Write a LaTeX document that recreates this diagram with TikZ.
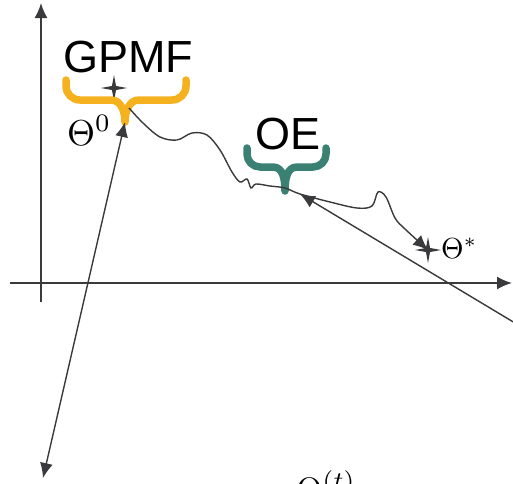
\documentclass[tikz,border=0pt]{standalone}
\usepackage{fontspec}
\newfontfamily\labelfont{Liberation Sans}
\usetikzlibrary{arrows.meta,shapes.geometric}
\definecolor{inkgray}{HTML}{3A3A3C}
\definecolor{braceorange}{HTML}{F5B21E}
\definecolor{braceteal}{HTML}{3A8073}
\newcommand{\bigmath}[2]{\scalebox{#1}{\fontsize{10}{12}\selectfont$#2$}}
\begin{document}
\begin{tikzpicture}[x=1pt, y=-1pt,
    axis/.style={draw=inkgray, line width=1.8pt, -{Latex[length=15pt,width=13pt]}},
    line/.style={draw=inkgray, line width=1.4pt},
    brace/.style={line width=7.5pt, line cap=round, line join=round},
    tag/.style={font=\labelfont\fontsize{45}{48}\selectfont, inner sep=0pt, anchor=base},
    mathlabel/.style={inner sep=0pt, anchor=base west},
    marker/.style={star, star points=4, star point ratio=4.5, fill=inkgray, minimum size=26pt, inner sep=0pt}]
    \useasboundingbox (0,0) rectangle (513,483);
    \clip (0,0) rectangle (513,483);

    \coordinate (xstart) at (10,283);
    \coordinate (xend) at (512,283);
    \coordinate (ystart) at (41,302);
    \coordinate (yend) at (41,3);
    \path [axis] (xstart) -- (xend);
    \path [axis] (ystart) -- (yend);

    \node [tag] (gpmf) at (128,72) {GPMF};
    \node [tag] (oe) at (288,149) {OE};
    \coordinate (gtip) at (125,122);
    \coordinate (otip) at (285,191);

    \node [marker] (mark0) at (114,88) {};
    \draw [brace, braceorange] (66,80) -- (66,86) to[out=-90,in=180] (80,100) -- (111,100)
        to[out=0,in=90] (gtip) to[out=90,in=180] (139,100) -- (172,100) to[out=0,in=-90] (186,86) -- (186,80);
    \draw [brace, braceteal] (247,148) -- (247,154) to[out=-90,in=180] (260,167) -- (273,167)
        to[out=0,in=90] (otip) to[out=90,in=180] (297,167) -- (313,167) to[out=0,in=-90] (326,154) -- (326,148);

    \node [marker] (markstar) at (428,250) {};
    \node [mathlabel] (theta0) at (67,145) {\bigmath{3.6}{\Theta^0}};
    \node [mathlabel] (thetastar) at (441,258) {\bigmath{2.9}{\Theta^*}};
    \node [mathlabel] (thetat) at (296,501) {\bigmath{3.4}{\Theta^{(t)}}};

    \coordinate (ghead) at (129,108);
    \coordinate (ohead) at (300,194);
    \coordinate (lowend) at (43,478);
    \coordinate (farend) at (545,341);

    \path [line, -{Latex[length=15pt,width=13pt]}] plot [smooth, tension=0.55] coordinates {(ghead) (143,123) (160,137) (177,140) (192,133) (207,135) (220,150) (232,172) (240,182) (247,179) (251,188) (256,184) (270,186) (285,188) (ohead) (330,202) (357,208) (372,206) (378,192) (386,197) (395,218) (405,229) (markstar)};
    \path [line, {Latex[length=15pt,width=13pt]}-{Latex[length=15pt,width=13pt]}] (gtip) -- (lowend);
    \path [line, {Latex[length=15pt,width=13pt]}-] (ohead) -- (farend);
\end{tikzpicture}
\end{document}
